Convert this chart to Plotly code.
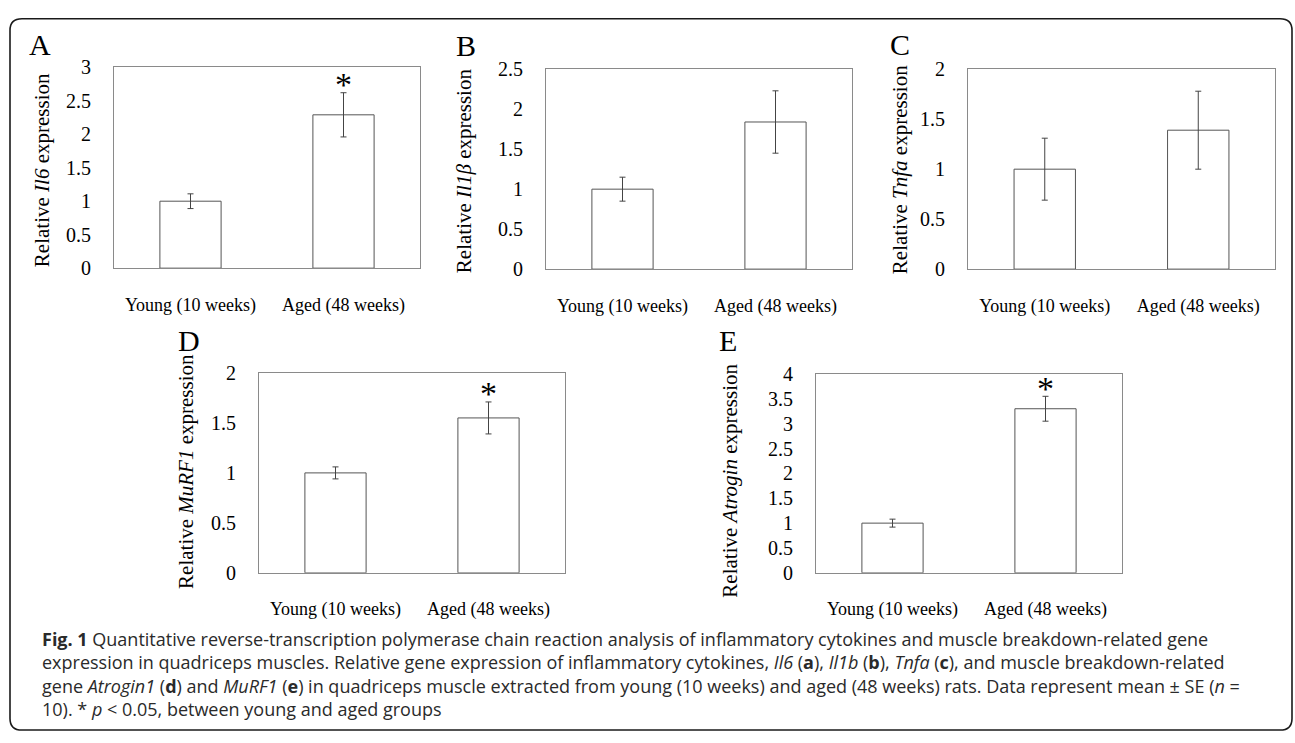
import plotly.graph_objects as go

W, H = 1295, 743

# ---------------- data ----------------
categories = ["Young (10 weeks)", "Aged (48 weeks)"]
panel_letters = ["A", "B", "C", "D", "E"]
gene_titles = ["Relative <i>Il6</i> expression",
               "Relative <i>Il1β</i> expression",
               "Relative <i>Tnfa</i> expression",
               "Relative <i>MuRF1</i> expression",
               "Relative <i>Atrogin</i> expression"]
il6_mean = [1.00, 2.29]
il6_se = [0.11, 0.33]
il1b_mean = [1.00, 1.84]
il1b_se = [0.15, 0.39]
tnfa_mean = [1.00, 1.39]
tnfa_se = [0.31, 0.39]
murf1_mean = [1.00, 1.55]
murf1_se = [0.06, 0.16]
atrogin_mean = [1.00, 3.30]
atrogin_se = [0.08, 0.25]
y_max = [3, 2.5, 2, 2, 4]
significant = [True, False, False, True, True]

means = [il6_mean, il1b_mean, tnfa_mean, murf1_mean, atrogin_mean]
ses = [il6_se, il1b_se, tnfa_se, murf1_se, atrogin_se]

caption_lines = [
    "<b>Fig. 1</b> Quantitative reverse-transcription polymerase chain reaction analysis of inflammatory cytokines and muscle breakdown-related gene",
    "expression in quadriceps muscles. Relative gene expression of inflammatory cytokines, <i>Il6</i> (<b>a</b>), <i>Il1b</i> (<b>b</b>), <i>Tnfa</i> (<b>c</b>), and muscle breakdown-related",
    "gene <i>Atrogin1</i> (<b>d</b>) and <i>MuRF1</i> (<b>e</b>) in quadriceps muscle extracted from young (10 weeks) and aged (48 weeks) rats. Data represent mean ± SE (<i>n</i> =",
    "10). * <i>p</i> &lt; 0.05, between young and aged groups",
]

# ---------------- layout (pixel boxes) ----------------
boxes = [  # x0, x1, y0(top), y1(bottom) in px
    (114, 420, 58, 265),
    (546, 852, 60, 266),
    (968, 1275, 60, 266),
    (259, 565, 373, 579),
    (816, 1122, 374, 579),
]
letter_pos = [(40, 35), (466, 36), (900, 35), (189, 340), (728, 340)]
title_pos = [(42, 164), (464, 164), (900, 164), (186, 475), (730, 484)]


def px(x):
    return x / W


def py(y):
    return 1 - y / H


SERIF = "Liberation Serif"
fig = go.Figure()
annotations = []

for i in range(5):
    n = "" if i == 0 else str(i + 1)
    x0, x1, y0, y1 = boxes[i]
    fig.add_trace(go.Bar(
        x=categories, y=means[i],
        error_y=dict(type="data", array=ses[i], visible=True,
                     color="#444444", thickness=1, width=3),
        marker=dict(color="white", line=dict(color="#555555", width=1)),
        width=0.4, showlegend=False, hoverinfo="skip",
        xaxis="x" + n, yaxis="y" + n,
    ))
    fig.update_layout(**{
        "xaxis" + n: dict(domain=[px(x0), px(x1)], anchor="y" + n,
                          type="category", range=[-0.5, 1.5],
                          showline=True, mirror=True, linecolor="#8a8a8a",
                          linewidth=1, ticks="", showgrid=False,
                          ticklabelstandoff=20,
                          tickfont=dict(family=SERIF, size=18, color="black")),
        "yaxis" + n: dict(domain=[py(y1), py(y0)], anchor="x" + n,
                          range=[0, y_max[i]], dtick=0.5,
                          showline=True, mirror=True, linecolor="#8a8a8a",
                          linewidth=1, ticks="", showgrid=False,
                          zeroline=False, ticklabelstandoff=18,
                          tickfont=dict(family=SERIF, size=20, color="black")),
    })
    lx, ly = letter_pos[i]
    annotations.append(dict(text=panel_letters[i], x=px(lx), y=py(ly),
                            xref="paper", yref="paper", showarrow=False,
                            xanchor="center", yanchor="middle",
                            font=dict(family=SERIF, size=30, color="black")))
    tx, ty = title_pos[i]
    annotations.append(dict(text=gene_titles[i], x=px(tx), y=py(ty),
                            xref="paper", yref="paper", showarrow=False,
                            textangle=-90, xanchor="center", yanchor="middle",
                            font=dict(family=SERIF, size=21, color="black")))
    if significant[i]:
        annotations.append(dict(text="*", x=categories[1],
                                y=means[i][1] + ses[i][1],
                                xref="x" + n, yref="y" + n, showarrow=False,
                                yanchor="middle", yshift=8,
                                font=dict(family=SERIF, size=34, color="black")))

annotations.append(dict(text="<br>".join(caption_lines), x=px(40), y=py(633),
                        xref="paper", yref="paper", showarrow=False,
                        xanchor="left", yanchor="top", align="left",
                        font=dict(family="Open Sans", size=18, color="#2a2a2a")))

# rounded border
bx0, bx1, by0, by1, r = 10, 1292, 8, 741, 12
path = (f"M {px(bx0 + r)} {py(by0)} L {px(bx1 - r)} {py(by0)} "
        f"Q {px(bx1)} {py(by0)} {px(bx1)} {py(by0 + r)} "
        f"L {px(bx1)} {py(by1 - r)} Q {px(bx1)} {py(by1)} {px(bx1 - r)} {py(by1)} "
        f"L {px(bx0 + r)} {py(by1)} Q {px(bx0)} {py(by1)} {px(bx0)} {py(by1 - r)} "
        f"L {px(bx0)} {py(by0 + r)} Q {px(bx0)} {py(by0)} {px(bx0 + r)} {py(by0)} Z")

fig.update_layout(
    width=W, height=H, margin=dict(l=0, r=0, t=0, b=0),
    paper_bgcolor="white", plot_bgcolor="white",
    annotations=annotations,
    shapes=[dict(type="path", path=path, xref="paper", yref="paper",
                 line=dict(color="#1a1a1a", width=1.6))],
    bargap=0.2,
)

post = ("document.documentElement.style.overflow='hidden';"
        "document.body.style.margin='0';document.body.style.overflow='hidden';"
        "var d=document.getElementById('{plot_id}');"
        "d.style.position='fixed';d.style.left='0px';d.style.top='0px';")

fig.write_html("out.html", config={"displayModeBar": False}, post_script=post)
